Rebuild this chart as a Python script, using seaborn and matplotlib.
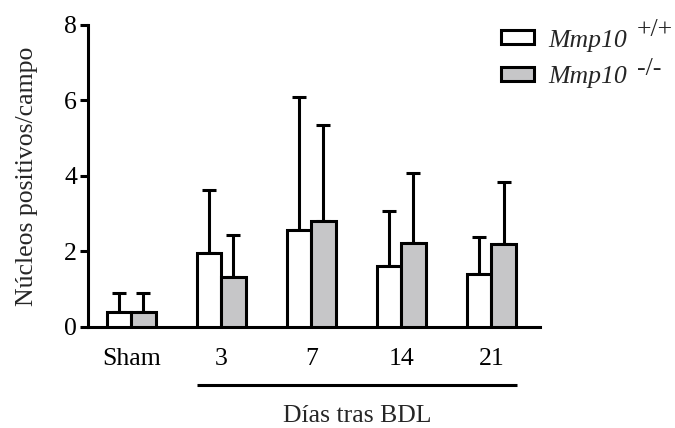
import matplotlib
matplotlib.use("Agg")
import matplotlib.pyplot as plt
from matplotlib.patches import Patch
import seaborn as sns
import pandas as pd
import numpy as np

# ---- data ----
categories = ["Sham", "3", "7", "14", "21"]
genotypes = ["+/+", "-/-"]
mean_wt = [0.39, 1.97, 2.57, 1.62, 1.40]
mean_ko = [0.39, 1.32, 2.82, 2.22, 2.20]
err_wt = [0.50, 1.66, 3.53, 1.44, 0.99]
err_ko = [0.50, 1.13, 2.54, 1.85, 1.64]
yticks = [0, 2, 4, 6, 8]

df = pd.DataFrame({
    "grupo": categories * 2,
    "genotipo": [genotypes[0]] * len(categories) + [genotypes[1]] * len(categories),
    "valor": mean_wt + mean_ko,
})

sns.set_theme(style="ticks")
plt.rcParams["font.family"] = ["Liberation Serif", "DejaVu Serif"]
FS = 18.5
LW = 2.2

fig = plt.figure(figsize=(6.75, 4.28), dpi=100)
ax = fig.add_axes([0.1304, 0.236, 0.8 - 0.1304, 0.9416 - 0.236])

colors = ["#ffffff", "#c6c6c8"]
sns.barplot(data=df, x="grupo", y="valor", hue="genotipo", order=categories,
            hue_order=genotypes, palette=colors, width=0.54, gap=0,
            errorbar=None, edgecolor="black", linewidth=LW, legend=False,
            saturation=1, ax=ax, zorder=3)

for cont, errs in zip(ax.containers, [err_wt, err_ko]):
    xs = [p.get_x() + p.get_width() / 2 for p in cont.patches]
    hs = [p.get_height() for p in cont.patches]
    ax.errorbar(xs, hs, yerr=[np.zeros(len(errs)), errs], fmt="none",
                ecolor="black", elinewidth=LW, capsize=5, capthick=LW, zorder=2)

ax.set_ylim(0, 8)
ax.set_xlim(-0.48, 4.54)
ax.set_yticks(yticks)
ax.set_yticklabels([str(v) for v in yticks])
ax.set_xlabel("")
ax.set_ylabel("Núcleos positivos/campo", fontsize=FS, labelpad=19)
for s in ["top", "right"]:
    ax.spines[s].set_visible(False)
for s in ["left", "bottom"]:
    ax.spines[s].set_linewidth(LW)
    ax.spines[s].set_color("black")
ax.tick_params(axis="y", length=6, width=LW, labelsize=FS, pad=2, colors="black")
ax.tick_params(axis="x", length=0, labelsize=FS, pad=15, colors="black")

# group line and label under BDL days
trans = matplotlib.transforms.blended_transform_factory(ax.transData, ax.transAxes)
ax.plot([0.73, 4.29], [-0.192, -0.192], color="black", lw=LW, transform=trans,
        clip_on=False, solid_capstyle="butt")
ax.text(2.51, -0.295, "Días tras BDL", transform=trans, ha="center", va="center",
        fontsize=FS)

# legend
handles = [Patch(facecolor=c, edgecolor="black", linewidth=LW) for c in colors]
leg = fig.legend(handles, ["Mmp10", "Mmp10"], loc="upper left",
                 bbox_to_anchor=(0.742, 0.931), frameon=False, fontsize=FS,
                 handlelength=1.3, handleheight=0.45, handletextpad=0.55,
                 labelspacing=0.57, borderpad=0, borderaxespad=0)
for t in leg.get_texts():
    t.set_fontstyle("italic")
fig.canvas.draw()
for t, g, dy in zip(leg.get_texts(), genotypes, [-8, -10]):
    ax.annotate(g, xy=(1, 1), xycoords=t, xytext=(7, dy), textcoords="offset points",
                ha="left", va="bottom", fontsize=FS, annotation_clip=False)

fig.savefig("out.png", dpi=100)
